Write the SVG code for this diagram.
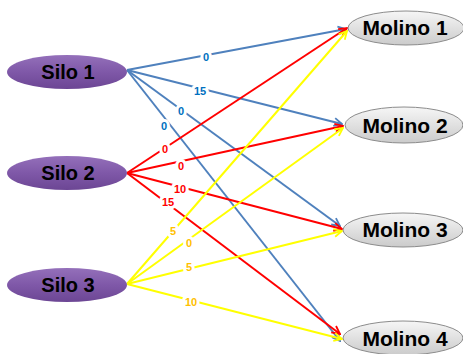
<svg xmlns="http://www.w3.org/2000/svg" width="463" height="354" viewBox="0 0 463 354">
<style>
.node-text{font-family:"Liberation Sans",Arial,sans-serif;font-weight:bold;font-size:20px;fill:#000;text-anchor:middle}
.mt{font-size:21px}
.lbl{font-family:"Liberation Sans",Arial,sans-serif;font-weight:bold;font-size:11px;text-anchor:middle;paint-order:stroke;stroke:#fff;stroke-width:6px;stroke-linejoin:round}
.b{stroke:#4f81bd;stroke-width:2;fill:none;marker-end:url(#ab)}
.r{stroke:#ff0000;stroke-width:2;fill:none;marker-end:url(#ar)}
.y{stroke:#ffff00;stroke-width:2;fill:none;marker-end:url(#ay)}
.lb{fill:#0070c0}.lr{fill:#ff0000}.ly{fill:#ffc000}
.silo{fill:url(#gs)}
.mol{fill:url(#gm);stroke:#8c8c8c;stroke-width:1}
</style>
<defs>
<linearGradient id="gs" x1="0" y1="0" x2="0" y2="1"><stop offset="0" stop-color="#9470ba"/><stop offset="0.5" stop-color="#7f58a8"/><stop offset="1" stop-color="#6c4694"/></linearGradient>
<linearGradient id="gm" x1="0" y1="0" x2="0" y2="1"><stop offset="0" stop-color="#f6f6f6"/><stop offset="1" stop-color="#cbcbcb"/></linearGradient>
<marker id="ab" viewBox="0 0 10 10" refX="9" refY="5" markerWidth="10" markerHeight="10" markerUnits="userSpaceOnUse" orient="auto"><path d="M1,1 L9,5 L1,9" fill="none" stroke="#4f81bd" stroke-width="1.8"/></marker>
<marker id="ar" viewBox="0 0 10 10" refX="9" refY="5" markerWidth="10" markerHeight="10" markerUnits="userSpaceOnUse" orient="auto"><path d="M1,1 L9,5 L1,9" fill="none" stroke="#ff0000" stroke-width="1.8"/></marker>
<marker id="ay" viewBox="0 0 10 10" refX="9" refY="5" markerWidth="10" markerHeight="10" markerUnits="userSpaceOnUse" orient="auto"><path d="M1,1 L9,5 L1,9" fill="none" stroke="#ffff00" stroke-width="1.8"/></marker>
</defs>
<rect width="463" height="354" fill="#fff"/>
<g id="connectors">
<line class="b" x1="127" y1="70" x2="346" y2="29"/>
<line class="b" x1="127" y1="70" x2="342" y2="124"/>
<line class="b" x1="127" y1="70" x2="340" y2="226"/>
<line class="b" x1="127" y1="70" x2="340" y2="341"/>
<line class="r" x1="127" y1="173" x2="347" y2="28"/>
<line class="r" x1="127" y1="173" x2="343" y2="126"/>
<line class="r" x1="127" y1="173" x2="342" y2="229"/>
<line class="r" x1="127" y1="173" x2="340" y2="334"/>
<line class="y" x1="127" y1="284" x2="347" y2="31"/>
<line class="y" x1="127" y1="284" x2="343" y2="128"/>
<line class="y" x1="127" y1="284" x2="342" y2="231"/>
<line class="y" x1="127" y1="284" x2="342" y2="339"/>
<text class="lbl lb" x="206" y="61">0</text>
<text class="lbl lb" x="200" y="95">15</text>
<text class="lbl lb" x="181" y="115">0</text>
<text class="lbl lb" x="164" y="130">0</text>
<text class="lbl lr" x="165" y="153">0</text>
<text class="lbl lr" x="181" y="170">0</text>
<text class="lbl lr" x="180" y="193">10</text>
<text class="lbl lr" x="168" y="206">15</text>
<text class="lbl ly" x="173" y="235">5</text>
<text class="lbl ly" x="189" y="247">0</text>
<text class="lbl ly" x="189" y="271">5</text>
<text class="lbl ly" x="191" y="306">10</text>
</g>
<g id="silo1"><ellipse class="silo" cx="67" cy="72" rx="60" ry="17"/><text class="node-text" x="68" y="79">Silo 1</text></g>
<g id="silo2"><ellipse class="silo" cx="67" cy="173" rx="60" ry="17"/><text class="node-text" x="68" y="180">Silo 2</text></g>
<g id="silo3"><ellipse class="silo" cx="67" cy="285" rx="60" ry="17"/><text class="node-text" x="68" y="292">Silo 3</text></g>
<g id="molino1"><ellipse class="mol" cx="406" cy="28" rx="58" ry="17"/><text class="node-text mt" x="405" y="35">Molino 1</text></g>
<g id="molino2"><ellipse class="mol" cx="404" cy="125" rx="59" ry="18"/><text class="node-text mt" x="405" y="133">Molino 2</text></g>
<g id="molino3"><ellipse class="mol" cx="403" cy="230" rx="60" ry="17"/><text class="node-text mt" x="405" y="237">Molino 3</text></g>
<g id="molino4"><ellipse class="mol" cx="403" cy="338" rx="60" ry="17"/><text class="node-text mt" x="405" y="346">Molino 4</text></g>
</svg>
